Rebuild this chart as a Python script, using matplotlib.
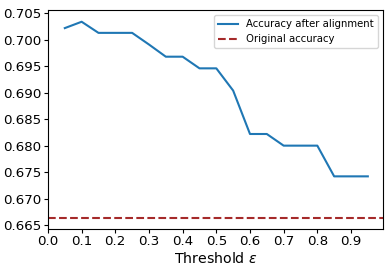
import numpy as np
import matplotlib
matplotlib.use("Agg")
import matplotlib.pyplot as plt

# thresholds and accuracy values
thresholds = [0.05, 0.10, 0.15, 0.20, 0.25, 0.30, 0.35, 0.40, 0.45, 0.50,
              0.55, 0.60, 0.65, 0.70, 0.75, 0.80, 0.85, 0.90, 0.95]
acc_aligned = [0.7022, 0.7034, 0.7013, 0.7013, 0.7013, 0.6991, 0.6968, 0.6968, 0.6946, 0.6946,
               0.6904, 0.6822, 0.6822, 0.6800, 0.6800, 0.6800, 0.6742, 0.6742, 0.6742]
acc_original = 0.6663

fig = plt.figure(figsize=(3.9, 2.73), dpi=100)
ax = fig.add_axes([0.123, 0.162, 0.859, 0.801])

ax.plot(thresholds, acc_aligned, label="Accuracy after alignment")
ax.axhline(acc_original, color="brown", linestyle="--", label="Original accuracy")

ax.set_xlim(left=0)
ax.set_xticks(np.arange(0, 1, 0.1))
ax.set_ylim(0.6643, 0.7056)
ax.set_yticks(np.arange(0.665, 0.7051, 0.005))
ax.tick_params(labelsize=9.6, length=2.6, pad=2)
ax.set_xlabel(r"Threshold $\varepsilon$", fontsize=10.2, labelpad=2)
ax.legend(loc="upper right", fontsize=7.3)

fig.savefig("out.png", dpi=100)
